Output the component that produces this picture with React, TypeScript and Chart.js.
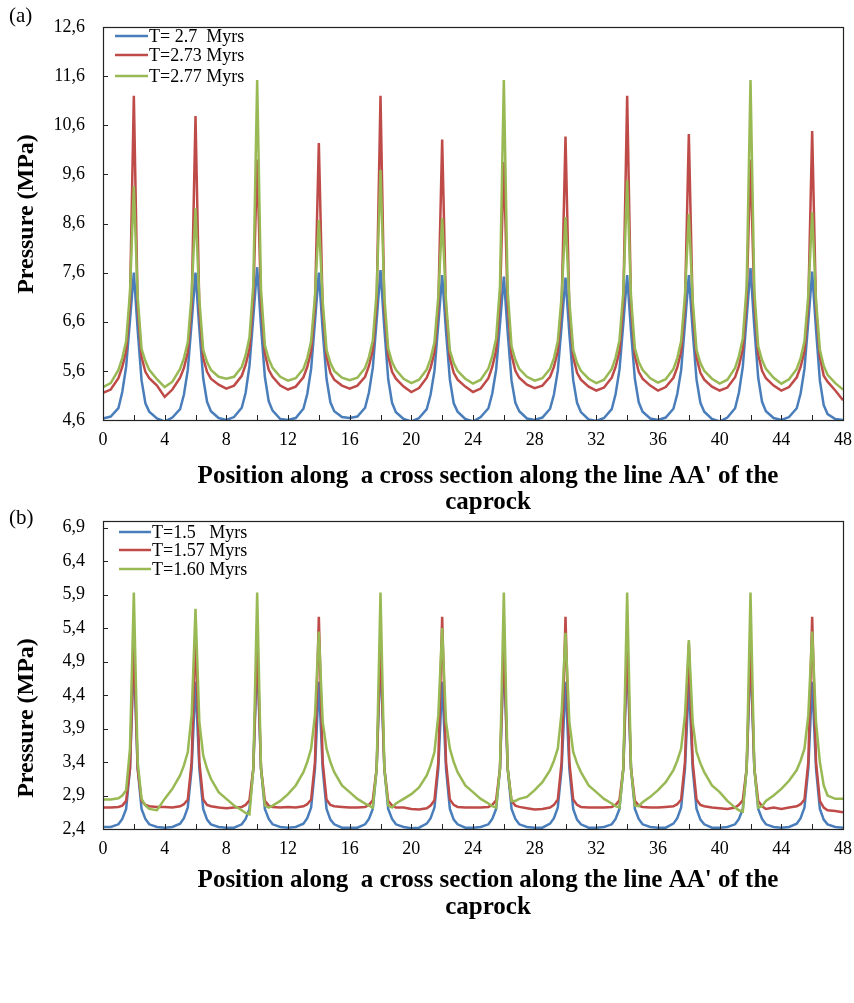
import React, { useEffect, useRef } from "react";
import { Chart, registerables } from "chart.js";
Chart.register(...registerables);

// Positions along the cross section (shared by every series)
const X_POS = [
  0, 0.5, 1, 1.25, 1.5, 1.75, 2, 2.25, 2.5, 2.75, 3, 3.5,
  4, 4.5, 5, 5.25, 5.5, 5.75, 6, 6.25, 6.5, 6.75, 7, 7.5,
  8, 8.5, 9, 9.25, 9.5, 9.75, 10, 10.25, 10.5, 10.75, 11, 11.5,
  12, 12.5, 13, 13.25, 13.5, 13.75, 14, 14.25, 14.5, 14.75, 15, 15.5,
  16, 16.5, 17, 17.25, 17.5, 17.75, 18, 18.25, 18.5, 18.75, 19, 19.5,
  20, 20.5, 21, 21.25, 21.5, 21.75, 22, 22.25, 22.5, 22.75, 23, 23.5,
  24, 24.5, 25, 25.25, 25.5, 25.75, 26, 26.25, 26.5, 26.75, 27, 27.5,
  28, 28.5, 29, 29.25, 29.5, 29.75, 30, 30.25, 30.5, 30.75, 31, 31.5,
  32, 32.5, 33, 33.25, 33.5, 33.75, 34, 34.25, 34.5, 34.75, 35, 35.5,
  36, 36.5, 37, 37.25, 37.5, 37.75, 38, 38.25, 38.5, 38.75, 39, 39.5,
  40, 40.5, 41, 41.25, 41.5, 41.75, 42, 42.25, 42.5, 42.75, 43, 43.5,
  44, 44.5, 45, 45.25, 45.5, 45.75, 46, 46.25, 46.5, 46.75, 47, 47.5,
  48,
];

// (a) T = 2.7 Myrs
const A_T270 = [
  4.63, 4.67, 4.84, 5.17, 5.68, 6.63, 7.60, 6.43, 5.41, 4.94, 4.77, 4.63,
  4.57, 4.65, 4.82, 5.12, 5.62, 6.58, 7.60, 6.45, 5.45, 4.97, 4.78, 4.64,
  4.60, 4.66, 4.85, 5.15, 5.70, 6.70, 7.71, 6.50, 5.48, 4.98, 4.79, 4.62,
  4.60, 4.64, 4.83, 5.13, 5.64, 6.60, 7.60, 6.42, 5.44, 4.96, 4.78, 4.66,
  4.64, 4.67, 4.85, 5.16, 5.66, 6.62, 7.65, 6.46, 5.43, 4.95, 4.76, 4.62,
  4.57, 4.64, 4.82, 5.12, 5.60, 6.55, 7.55, 6.40, 5.42, 4.94, 4.77, 4.62,
  4.57, 4.66, 4.84, 5.14, 5.62, 6.55, 7.52, 6.38, 5.40, 4.95, 4.78, 4.63,
  4.60, 4.65, 4.83, 5.12, 5.60, 6.52, 7.50, 6.36, 5.41, 4.95, 4.76, 4.61,
  4.58, 4.64, 4.82, 5.13, 5.62, 6.56, 7.55, 6.40, 5.44, 4.96, 4.77, 4.63,
  4.60, 4.65, 4.83, 5.13, 5.61, 6.55, 7.55, 6.41, 5.42, 4.95, 4.77, 4.62,
  4.57, 4.65, 4.84, 5.16, 5.68, 6.68, 7.69, 6.48, 5.46, 4.97, 4.78, 4.64,
  4.60, 4.66, 4.84, 5.14, 5.64, 6.60, 7.62, 6.44, 5.40, 4.90, 4.72, 4.62,
  4.60,
];
// (a) T = 2.73 Myrs
const A_T273 = [
  5.15, 5.22, 5.45, 5.68, 6.00, 7.00, 11.20, 6.90, 5.88, 5.58, 5.45, 5.30,
  5.07, 5.22, 5.46, 5.66, 5.98, 6.95, 10.79, 6.85, 5.86, 5.58, 5.44, 5.32,
  5.24, 5.30, 5.50, 5.72, 6.05, 7.10, 9.90, 7.00, 5.95, 5.62, 5.48, 5.30,
  5.22, 5.28, 5.47, 5.68, 6.00, 6.95, 10.24, 6.85, 5.88, 5.56, 5.42, 5.30,
  5.24, 5.30, 5.48, 5.70, 6.02, 7.00, 11.20, 6.90, 5.90, 5.58, 5.44, 5.28,
  5.17, 5.25, 5.46, 5.66, 5.98, 6.92, 10.31, 6.85, 5.86, 5.56, 5.42, 5.28,
  5.17, 5.24, 5.45, 5.68, 6.02, 7.05, 9.85, 6.95, 5.92, 5.60, 5.46, 5.32,
  5.25, 5.30, 5.48, 5.68, 6.00, 6.95, 10.37, 6.85, 5.88, 5.56, 5.42, 5.28,
  5.20, 5.26, 5.46, 5.68, 6.00, 7.00, 11.20, 6.90, 5.90, 5.58, 5.44, 5.30,
  5.20, 5.27, 5.46, 5.67, 5.99, 6.95, 10.42, 6.85, 5.87, 5.56, 5.42, 5.28,
  5.20, 5.26, 5.47, 5.70, 6.04, 7.08, 9.90, 6.98, 5.93, 5.60, 5.45, 5.30,
  5.20, 5.27, 5.47, 5.68, 6.00, 6.97, 10.48, 6.88, 5.88, 5.50, 5.38, 5.20,
  5.00,
];
// (a) T = 2.77 Myrs
const A_T277 = [
  5.27, 5.35, 5.62, 5.86, 6.20, 7.20, 9.36, 7.10, 6.05, 5.80, 5.62, 5.43,
  5.27, 5.38, 5.64, 5.86, 6.18, 7.15, 8.91, 7.05, 6.03, 5.78, 5.62, 5.48,
  5.44, 5.48, 5.68, 5.92, 6.28, 7.35, 11.52, 7.25, 6.12, 5.84, 5.66, 5.48,
  5.40, 5.45, 5.64, 5.86, 6.20, 7.12, 8.67, 7.02, 6.03, 5.76, 5.60, 5.46,
  5.41, 5.46, 5.66, 5.88, 6.22, 7.20, 9.69, 7.10, 6.06, 5.78, 5.62, 5.44,
  5.35, 5.42, 5.63, 5.85, 6.18, 7.12, 8.71, 7.02, 6.02, 5.76, 5.60, 5.44,
  5.34, 5.42, 5.65, 5.90, 6.26, 7.32, 11.52, 7.22, 6.10, 5.82, 5.64, 5.48,
  5.40, 5.45, 5.64, 5.86, 6.20, 7.12, 8.73, 7.02, 6.03, 5.76, 5.60, 5.44,
  5.35, 5.42, 5.64, 5.87, 6.22, 7.20, 9.48, 7.10, 6.06, 5.78, 5.62, 5.45,
  5.36, 5.43, 5.64, 5.86, 6.20, 7.14, 8.79, 7.04, 6.03, 5.76, 5.60, 5.44,
  5.34, 5.42, 5.66, 5.90, 6.26, 7.32, 11.52, 7.22, 6.10, 5.82, 5.64, 5.46,
  5.34, 5.43, 5.64, 5.86, 6.20, 7.14, 8.83, 7.04, 6.03, 5.70, 5.52, 5.35,
  5.22,
];

// (b) T = 1.5 Myrs
const B_T150 = [
  2.43, 2.43, 2.47, 2.55, 2.70, 3.30, 5.00, 3.30, 2.70, 2.55, 2.47, 2.43,
  2.42, 2.43, 2.48, 2.56, 2.72, 3.30, 4.60, 3.30, 2.70, 2.54, 2.47, 2.43,
  2.42, 2.42, 2.47, 2.55, 2.70, 3.30, 5.00, 3.30, 2.70, 2.55, 2.47, 2.43,
  2.42, 2.43, 2.48, 2.56, 2.72, 3.30, 4.60, 3.30, 2.70, 2.54, 2.47, 2.42,
  2.42, 2.42, 2.47, 2.55, 2.70, 3.30, 5.00, 3.30, 2.70, 2.55, 2.47, 2.43,
  2.41, 2.42, 2.48, 2.56, 2.72, 3.30, 4.60, 3.30, 2.70, 2.54, 2.47, 2.42,
  2.42, 2.43, 2.47, 2.55, 2.70, 3.30, 5.00, 3.30, 2.70, 2.55, 2.47, 2.43,
  2.42, 2.42, 2.48, 2.56, 2.72, 3.30, 4.60, 3.30, 2.70, 2.54, 2.47, 2.42,
  2.42, 2.43, 2.47, 2.55, 2.70, 3.30, 5.00, 3.30, 2.70, 2.55, 2.47, 2.43,
  2.42, 2.42, 2.48, 2.56, 2.72, 3.30, 4.60, 3.30, 2.70, 2.54, 2.47, 2.42,
  2.42, 2.43, 2.47, 2.55, 2.70, 3.30, 5.00, 3.30, 2.70, 2.55, 2.47, 2.43,
  2.42, 2.43, 2.48, 2.56, 2.72, 3.30, 4.60, 3.30, 2.70, 2.54, 2.47, 2.43,
  2.42,
];
// (b) T = 1.57 Myrs
const B_T157 = [
  2.72, 2.72, 2.73, 2.75, 2.82, 3.30, 5.20, 3.30, 2.82, 2.76, 2.74, 2.73,
  2.73, 2.72, 2.74, 2.77, 2.84, 3.40, 5.35, 3.40, 2.84, 2.76, 2.74, 2.72,
  2.71, 2.72, 2.73, 2.76, 2.83, 3.30, 5.20, 3.30, 2.82, 2.75, 2.73, 2.72,
  2.73, 2.72, 2.74, 2.77, 2.84, 3.40, 5.57, 3.40, 2.84, 2.76, 2.74, 2.73,
  2.72, 2.72, 2.73, 2.76, 2.83, 3.30, 5.20, 3.30, 2.82, 2.75, 2.72, 2.72,
  2.70, 2.69, 2.71, 2.75, 2.83, 3.40, 5.57, 3.40, 2.84, 2.76, 2.73, 2.72,
  2.72, 2.72, 2.73, 2.76, 2.83, 3.30, 5.20, 3.30, 2.82, 2.75, 2.73, 2.71,
  2.69, 2.70, 2.72, 2.76, 2.84, 3.40, 5.57, 3.40, 2.84, 2.76, 2.73, 2.72,
  2.72, 2.72, 2.73, 2.76, 2.83, 3.30, 5.20, 3.30, 2.82, 2.75, 2.73, 2.72,
  2.72, 2.73, 2.74, 2.77, 2.84, 3.40, 5.17, 3.40, 2.84, 2.76, 2.74, 2.72,
  2.71, 2.70, 2.72, 2.76, 2.83, 3.30, 5.20, 3.30, 2.82, 2.74, 2.70, 2.72,
  2.70, 2.72, 2.74, 2.77, 2.84, 3.40, 5.57, 3.40, 2.82, 2.72, 2.68, 2.67,
  2.65,
];
// (b) T = 1.60 Myrs
const B_T160 = [
  2.84, 2.84, 2.86, 2.90, 2.98, 3.60, 5.93, 3.40, 2.85, 2.75, 2.70, 2.68,
  2.85, 3.00, 3.20, 3.35, 3.55, 4.10, 5.69, 4.00, 3.50, 3.30, 3.15, 2.95,
  2.85, 2.75, 2.68, 2.64, 2.62, 3.30, 5.93, 3.30, 2.75, 2.72, 2.75, 2.82,
  2.92, 3.05, 3.25, 3.40, 3.60, 4.10, 5.35, 4.00, 3.60, 3.40, 3.25, 3.05,
  2.95, 2.85, 2.78, 2.75, 2.72, 3.30, 5.93, 3.30, 2.75, 2.72, 2.78, 2.85,
  2.92, 3.02, 3.20, 3.35, 3.55, 4.10, 5.40, 4.00, 3.60, 3.40, 3.25, 3.05,
  2.95, 2.85, 2.78, 2.74, 2.72, 3.30, 5.93, 3.30, 2.82, 2.82, 2.85, 2.88,
  2.98, 3.10, 3.28, 3.42, 3.60, 4.15, 5.33, 4.00, 3.55, 3.38, 3.25, 3.05,
  2.95, 2.85, 2.78, 2.74, 2.72, 3.30, 5.93, 3.30, 2.75, 2.74, 2.80, 2.88,
  2.98, 3.10, 3.28, 3.42, 3.60, 4.10, 5.22, 4.00, 3.55, 3.38, 3.25, 3.05,
  2.95, 2.82, 2.72, 2.68, 2.66, 3.30, 5.93, 3.30, 2.72, 2.74, 2.82, 2.90,
  3.00, 3.12, 3.28, 3.42, 3.60, 4.10, 5.35, 4.00, 3.40, 3.05, 2.90, 2.85,
  2.85,
];

const X_TICKS = [0, 2, 4, 6, 8, 10, 12, 14, 16, 18, 20, 22, 24, 26, 28, 30, 32, 34, 36, 38, 40, 42, 44, 46, 48];
const X_LABELS = ["0", "", "4", "", "8", "", "12", "", "16", "", "20", "", "24", "", "28", "", "32", "", "36", "", "40", "", "44", "", "48"];

const A_Y_TICKS = [4.6, 5.6, 6.6, 7.6, 8.6, 9.6, 10.6, 11.6, 12.6];
const A_Y_LABELS = ["4,6", "5,6", "6,6", "7,6", "8,6", "9,6", "10,6", "11,6", "12,6"];
const B_Y_TICKS = [2.4, 2.9, 3.4, 3.9, 4.4, 4.9, 5.4, 5.9, 6.4, 6.9];
const B_Y_LABELS = ["2,4", "2,9", "3,4", "3,9", "4,4", "4,9", "5,4", "5,9", "6,4", "6,9"];

const A_LEGEND = ["T= 2.7  Myrs", "T=2.73 Myrs", "T=2.77 Myrs"];
const B_LEGEND = ["T=1.5   Myrs", "T=1.57 Myrs", "T=1.60 Myrs"];
const SERIES_COLORS = ["#4a7ebb", "#be4b48", "#98b954"];

const X_TITLE = ["Position along  a cross section along the line AA' of the", "caprock"];
const Y_TITLE = "Pressure (MPa)";
const SERIF = "'Liberation Serif', 'Times New Roman', serif";

type PanelSpec = {
  panel: string;
  series: number[][];
  legend: string[];
  yMin: number;
  yMax: number;
  yTicks: number[];
  yLabels: string[];
  width: number;
  height: number;
  padTop: number;
  padBottom: number;
  xAxisHeight: number;
  legendRows: number[];
  legendLineX: number[];
  panelLabelY: number;
  xTitleY: number[];
  yTitleY: number;
};

function PanelChart({ spec, top }: { spec: PanelSpec; top: number }) {
  const ref = useRef<HTMLCanvasElement | null>(null);
  useEffect(() => {
    if (!ref.current) return;
    const decor = {
      id: "decor_" + spec.panel,
      afterDraw(chart: any) {
        const { ctx, chartArea } = chart;
        const { left, right, top: t, bottom } = chartArea;
        ctx.save();
        // frame
        ctx.strokeStyle = "#222";
        ctx.lineWidth = 1.2;
        ctx.strokeRect(left + 0.5, t + 0.5, right - left, bottom - t);
        // inward tick marks
        const ys = chart.scales.y;
        const xs = chart.scales.x;
        ctx.lineWidth = 1;
        ctx.beginPath();
        spec.yTicks.forEach((v) => {
          const py = Math.round(ys.getPixelForValue(v)) + 0.5;
          ctx.moveTo(left, py);
          ctx.lineTo(left + 5, py);
        });
        X_TICKS.forEach((v) => {
          const px = Math.round(xs.getPixelForValue(v)) + 0.5;
          ctx.moveTo(px, bottom);
          ctx.lineTo(px, bottom - 5);
        });
        ctx.stroke();
        // legend
        ctx.font = "18px " + SERIF;
        ctx.textBaseline = "middle";
        ctx.textAlign = "left";
        spec.legend.forEach((label, i) => {
          const y = t + spec.legendRows[i];
          ctx.strokeStyle = SERIES_COLORS[i];
          ctx.lineWidth = 2.5;
          ctx.beginPath();
          ctx.moveTo(spec.legendLineX[0], y);
          ctx.lineTo(spec.legendLineX[1], y);
          ctx.stroke();
          ctx.fillStyle = "#000";
          ctx.fillText(label, spec.legendLineX[1] + 1, y + 1);
        });
        // axis titles
        ctx.fillStyle = "#000";
        ctx.font = "bold 25px " + SERIF;
        ctx.textAlign = "center";
        X_TITLE.forEach((line, i) => {
          ctx.fillText(line, 488, spec.xTitleY[i]);
        });
        ctx.save();
        ctx.translate(27, spec.yTitleY);
        ctx.rotate(-Math.PI / 2);
        ctx.font = "bold 24px " + SERIF;
        ctx.fillText(Y_TITLE, 0, 0);
        ctx.restore();
        // panel label
        ctx.font = "21px " + SERIF;
        ctx.textAlign = "left";
        ctx.fillText("(" + spec.panel + ")", 9, spec.panelLabelY);
        ctx.restore();
      },
    };
    const zeroPad = (s: any) => {
      s.paddingTop = 0;
      s.paddingBottom = 0;
      s.paddingLeft = 0;
      s.paddingRight = 0;
    };
    const chart = new Chart(ref.current, {
      type: "line",
      data: {
        datasets: spec.series.map((vals, i) => ({
          label: spec.legend[i],
          data: X_POS.map((x, j) => ({ x, y: vals[j] })),
          borderColor: SERIES_COLORS[i],
          backgroundColor: SERIES_COLORS[i],
          borderWidth: 2.5,
          pointRadius: 0,
          tension: 0,
          fill: false,
          order: 3 - i,
        })),
      },
      options: {
        animation: false,
        responsive: false,
        devicePixelRatio: 1,
        layout: { padding: { left: 0, right: 11, top: spec.padTop, bottom: spec.padBottom } },
        plugins: { legend: { display: false }, tooltip: { enabled: false } },
        scales: {
          x: {
            type: "linear",
            min: 0,
            max: 48,
            grid: { display: false, drawTicks: false },
            border: { display: false },
            afterBuildTicks: (s: any) => {
              s.ticks = X_TICKS.map((v) => ({ value: v }));
            },
            afterFit: (s: any) => {
              s.height = spec.xAxisHeight;
              zeroPad(s);
            },
            ticks: {
              autoSkip: false,
              maxRotation: 0,
              padding: 9,
              color: "#000",
              font: { family: SERIF, size: 18 },
              callback: (_v: any, i: number) => X_LABELS[i],
            },
            title: { display: false },
          },
          y: {
            type: "linear",
            min: spec.yMin,
            max: spec.yMax,
            grid: { display: false, drawTicks: false },
            border: { display: false },
            afterBuildTicks: (s: any) => {
              s.ticks = spec.yTicks.map((v) => ({ value: v }));
            },
            afterFit: (s: any) => {
              s.width = 103;
              zeroPad(s);
            },
            ticks: {
              autoSkip: false,
              padding: 18,
              color: "#000",
              font: { family: SERIF, size: 18 },
              callback: (_v: any, i: number) => spec.yLabels[i],
            },
            title: { display: false },
          },
        },
      },
      plugins: [decor],
    } as any);
    return () => chart.destroy();
  }, [spec]);
  return (
    <canvas
      ref={ref}
      width={spec.width}
      height={spec.height}
      style={{ position: "absolute", left: 0, top, width: spec.width, height: spec.height, display: "block" }}
    />
  );
}

const SPEC_A: PanelSpec = {
  panel: "a",
  series: [A_T270, A_T273, A_T277],
  legend: A_LEGEND,
  yMin: 4.6,
  yMax: 12.6,
  yTicks: A_Y_TICKS,
  yLabels: A_Y_LABELS,
  width: 854,
  height: 520,
  padTop: 27,
  padBottom: 4,
  xAxisHeight: 96,
  legendRows: [9, 28, 49],
  legendLineX: [115, 148],
  panelLabelY: 16,
  xTitleY: [477, 503],
  yTitleY: 214,
};

const SPEC_B: PanelSpec = {
  panel: "b",
  series: [B_T150, B_T157, B_T160],
  legend: B_LEGEND,
  yMin: 2.4,
  yMax: 7.0,
  yTicks: B_Y_TICKS,
  yLabels: B_Y_LABELS,
  width: 854,
  height: 503,
  padTop: 21,
  padBottom: 83,
  xAxisHeight: 91,
  legendRows: [11, 29, 48],
  legendLineX: [119, 151],
  panelLabelY: 18,
  xTitleY: [381, 408],
  yTitleY: 218,
};

export default function App() {
  return (
    <div style={{ position: "absolute", left: 0, top: 0, width: 854, height: 1003, background: "#fff" }}>
      <PanelChart spec={SPEC_A} top={0} />
      <PanelChart spec={SPEC_B} top={500} />
    </div>
  );
}
